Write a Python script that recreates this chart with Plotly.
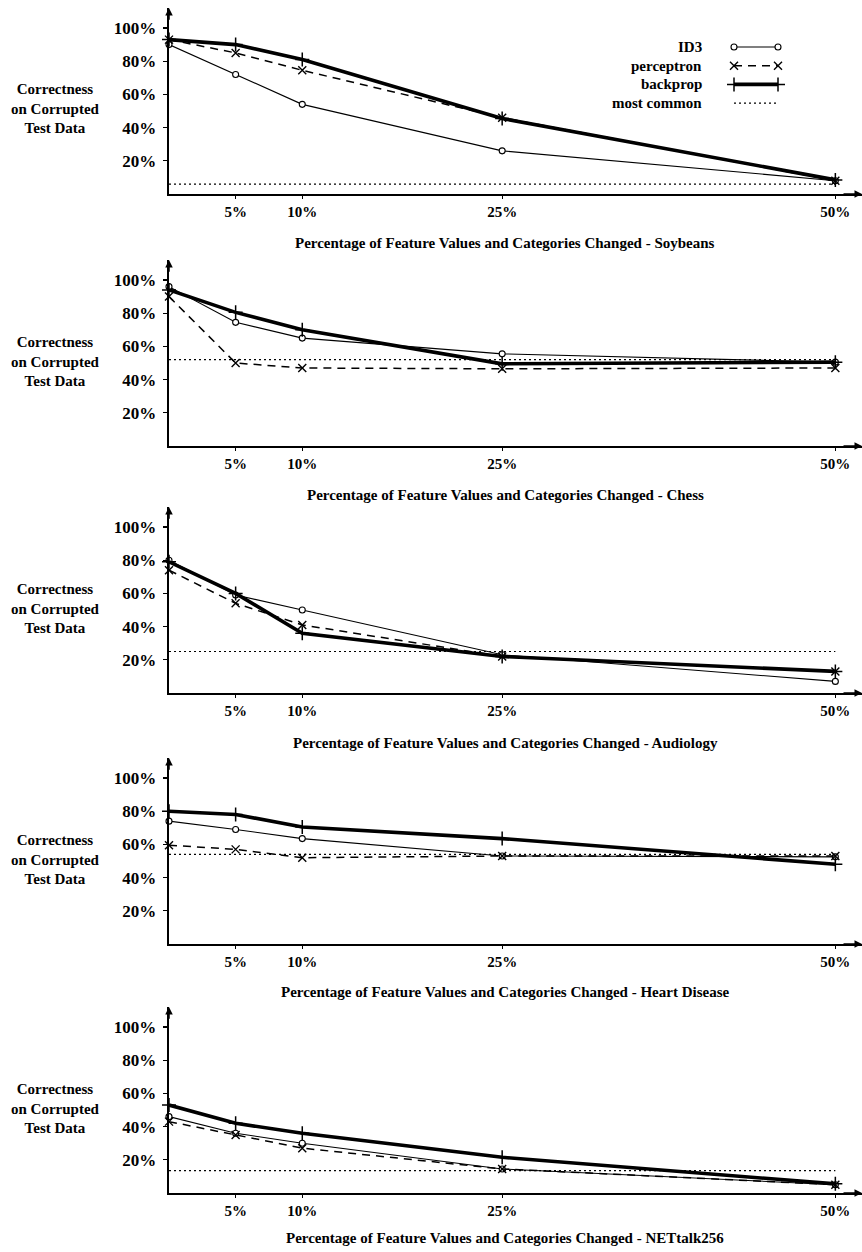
import plotly.graph_objects as go

# ---------------- data ----------------
NOISE = [0, 5, 10, 25, 50]
X_TICKS = [5, 10, 25, 50]
X_TICK_LABELS = ["5%", "10%", "25%", "50%"]
Y_TICKS = [20, 40, 60, 80, 100]
Y_TICK_LABELS = ["20%", "40%", "60%", "80%", "100%"]

DATASETS = ["Soybeans", "Chess", "Audiology", "Heart Disease", "NETtalk256"]

ID3 = [
    [90, 72, 54, 26, 8],
    [96, 74.5, 65, 55.5, 50.5],
    [80, 59, 50, 23, 7],
    [74, 69, 63.5, 53, 52.5],
    [46, 36, 30, 14.5, 5],
]
PERCEPTRON = [
    [93, 85, 74.5, 46, 8],
    [90, 50, 47, 46.5, 47],
    [74, 54, 41, 22, 13],
    [59.5, 57, 52, 53, 53],
    [43, 35, 27, 14.5, 5],
]
BACKPROP = [
    [93, 90, 81, 45.5, 8.5],
    [94, 80.5, 70, 49.5, 50.5],
    [79, 60, 36, 22, 13],
    [80, 78, 70.5, 63.5, 48],
    [53, 42, 36, 21.5, 5.5],
]
MOST_COMMON = [6, 52, 25, 54, 13.5]

LEGEND_LABELS = ["ID3", "perceptron", "backprop", "most common"]

# ---------------- styles ----------------
W, H = 862, 1252
FONT = "Liberation Serif"
X_LEFT_PX = 169
X_MAX = 52.0
Y_MAX = 112.0
PX_PER_PCT = 1.66
BOTTOMS_PX = [194, 446, 693, 944, 1193]
TITLE_Y_PX = [243, 495, 743, 992, 1238]

STYLES = {
    "ID3": dict(line=dict(color="black", width=1.1),
                marker=dict(symbol="circle", size=6, color="white",
                            line=dict(color="black", width=1.1))),
    "perceptron": dict(line=dict(color="black", width=1.5, dash="8px,6px"),
                       marker=dict(symbol="x-thin-open", size=8,
                                   line=dict(color="black", width=1.4))),
    "backprop": dict(line=dict(color="black", width=3.6),
                     marker=dict(symbol="cross-thin-open", size=10,
                                 line=dict(color="black", width=1.5))),
    "most common": dict(line=dict(color="black", width=1.2, dash="2px,3px"),
                        marker=dict(size=1, opacity=0)),
}

fig = go.Figure()

def py(px):
    return (H - px) / H

layout_axes = {}
annotations = []

for i, name in enumerate(DATASETS):
    k = i + 1
    xa = "x" if k == 1 else f"x{k}"
    ya = "y" if k == 1 else f"y{k}"
    bottom = BOTTOMS_PX[i]
    top = bottom - Y_MAX * PX_PER_PCT

    series = [
        ("most common", [0, 50], [MOST_COMMON[i], MOST_COMMON[i]], "lines"),
        ("ID3", NOISE, ID3[i], "lines+markers"),
        ("perceptron", NOISE, PERCEPTRON[i], "lines+markers"),
        ("backprop", NOISE, BACKPROP[i], "lines+markers"),
    ]
    for sname, xs, ys, mode in series:
        st = STYLES[sname]
        fig.add_trace(go.Scatter(
            x=xs, y=ys, mode=mode, name=sname, showlegend=False,
            line=st["line"], marker=st["marker"] if "markers" in mode else None,
            xaxis=xa, yaxis=ya, hoverinfo="skip", cliponaxis=False,
        ))

    layout_axes[f"xaxis{'' if k == 1 else k}"] = dict(
        domain=[X_LEFT_PX / W, 1.0], range=[0, X_MAX], anchor=ya,
        showgrid=False, zeroline=False, showline=True, linecolor="black",
        linewidth=1.6, ticks="outside", ticklen=3, tickwidth=1.2, tickcolor="black",
        tickvals=X_TICKS, ticktext=[f"<b>{t}</b>" for t in X_TICK_LABELS],
        tickfont=dict(family=FONT, size=15, color="black"),
        ticklabelstandoff=0, fixedrange=True,
    )
    layout_axes[f"yaxis{'' if k == 1 else k}"] = dict(
        domain=[py(bottom), py(top)], range=[0, Y_MAX], anchor=xa,
        showgrid=False, zeroline=False, showline=True, linecolor="black",
        linewidth=2.4, ticks="outside", ticklen=4, tickwidth=1.2, tickcolor="black",
        tickvals=Y_TICKS, ticktext=[f"<b>{t}</b>" for t in Y_TICK_LABELS],
        tickfont=dict(family=FONT, size=17, color="black"),
        ticklabelstandoff=3, fixedrange=True,
    )

    # axis arrowheads
    annotations.append(dict(x=0, y=Y_MAX, ax=0, ay=Y_MAX - 8, xref=xa, yref=ya,
                            axref=xa, ayref=ya, text="", showarrow=True,
                            arrowhead=2, arrowsize=1, arrowwidth=1.5,
                            arrowcolor="black", standoff=0, startstandoff=0))
    annotations.append(dict(x=X_MAX, y=0, ax=X_MAX - 1.5, ay=0, xref=xa, yref=ya,
                            axref=xa, ayref=ya, text="", showarrow=True,
                            arrowhead=2, arrowsize=1, arrowwidth=1.5,
                            arrowcolor="black", standoff=0, startstandoff=0))

    # y-axis label
    annotations.append(dict(
        x=55 / W, y=py(bottom - 85), xref="paper", yref="paper",
        text="<b>Correctness<br>on Corrupted<br>Test Data</b>", showarrow=False,
        xanchor="center", yanchor="middle", align="center",
        font=dict(family=FONT, size=15, color="black"),
    ))
    # x-axis title
    annotations.append(dict(
        x=505 / W, y=py(TITLE_Y_PX[i]), xref="paper", yref="paper",
        text=f"<b>Percentage of Feature Values and Categories Changed - {name}</b>",
        showarrow=False, xanchor="center", yanchor="middle",
        font=dict(family=FONT, size=15, color="black"),
    ))

# ---------------- legend (text left, sample right) ----------------
ROW0_PX, ROW_STEP = 47, 18.7
LEG_TOP_PX, LEG_BOT_PX = 38, 112
layout_axes["xaxis6"] = dict(domain=[734 / W, 778 / W], range=[0, 1], visible=False,
                             anchor="y6", fixedrange=True)
layout_axes["yaxis6"] = dict(domain=[py(LEG_BOT_PX), py(LEG_TOP_PX)],
                             range=[-(LEG_BOT_PX - ROW0_PX) / ROW_STEP,
                                    (ROW0_PX - LEG_TOP_PX) / ROW_STEP],
                             visible=False, anchor="x6", fixedrange=True)
for j, lab in enumerate(LEGEND_LABELS):
    st = STYLES[lab]
    has_m = lab != "most common"
    fig.add_trace(go.Scatter(
        x=[0, 1], y=[-j, -j], mode="lines+markers" if has_m else "lines",
        line=st["line"], marker=st["marker"] if has_m else None,
        xaxis="x6", yaxis="y6", showlegend=False, hoverinfo="skip",
        cliponaxis=False,
    ))
    annotations.append(dict(
        x=704 / W, y=-j, xref="paper", yref="y6", text=f"<b>{lab}</b>",
        showarrow=False, xanchor="right", yanchor="middle",
        font=dict(family=FONT, size=15, color="black"),
    ))

fig.update_layout(
    width=W, height=H, margin=dict(l=0, r=0, t=0, b=0),
    paper_bgcolor="white", plot_bgcolor="white",
    showlegend=False, annotations=annotations, hovermode=False, **layout_axes,
)

fig.write_html(
    "out.html",
    config={"displayModeBar": False, "staticPlot": True},
    post_script="document.body.style.margin='0';document.body.style.overflow='hidden';",
)
